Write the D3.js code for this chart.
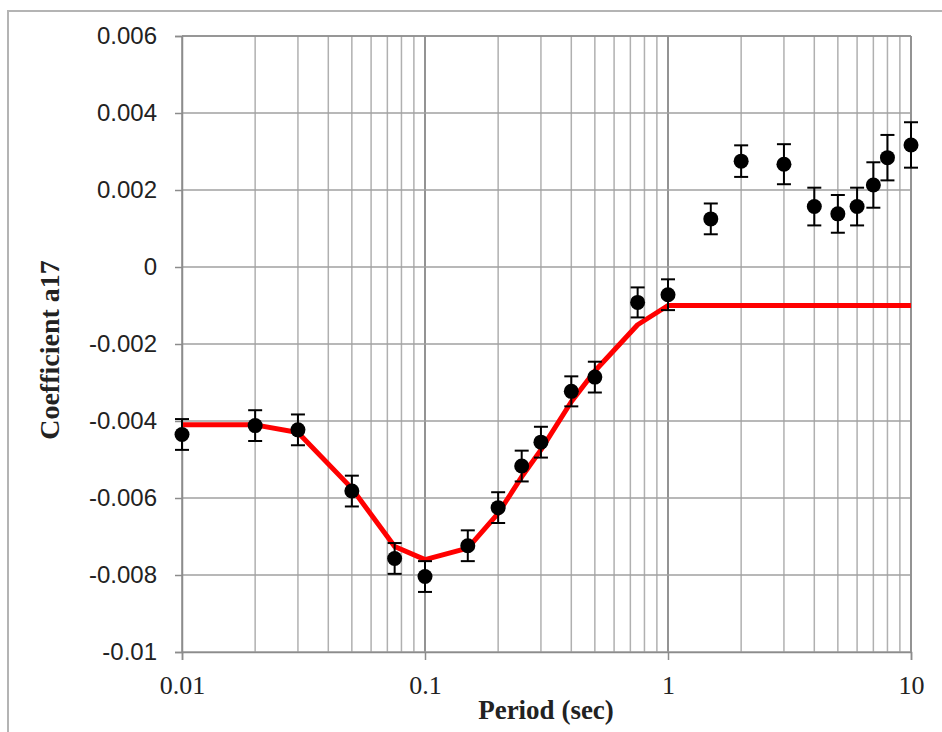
<!DOCTYPE html>
<html>
<head>
<meta charset="utf-8">
<script src="https://cdn.jsdelivr.net/npm/d3@7"></script>
<style>
  body { margin: 0; background: #fff; }
  svg { display: block; }
</style>
</head>
<body>
<svg id="chart" width="942" height="732"></svg>
<script>
// observed coefficients with error bars
var periods = [0.01, 0.02, 0.03, 0.05, 0.075, 0.1, 0.15, 0.2, 0.25, 0.3, 0.4, 0.5, 0.75, 1, 1.5, 2, 3, 4, 5, 6, 7, 8, 10];
var coefs = [-0.00435, -0.00412, -0.00423, -0.00582, -0.00757, -0.00804, -0.00724, -0.00625, -0.00517, -0.00455, -0.00323, -0.00286, -0.00092, -0.00072, 0.00125, 0.00275, 0.00267, 0.00157, 0.00138, 0.00157, 0.00213, 0.00284, 0.00317];
var errs = [0.0004, 0.0004, 0.0004, 0.0004, 0.0004, 0.0004, 0.0004, 0.0004, 0.0004, 0.0004, 0.00039, 0.0004, 0.00039, 0.0004, 0.0004, 0.00041, 0.00052, 0.00049, 0.00049, 0.00049, 0.00059, 0.00059, 0.00059];

// fitted (smoothed) model
var modelPeriods = [0.01, 0.02, 0.03, 0.05, 0.075, 0.1, 0.15, 0.2, 0.25, 0.3, 0.4, 0.5, 0.75, 1, 10];
var modelCoefs = [-0.0041, -0.0041, -0.0043, -0.00575, -0.00726, -0.0076, -0.0073, -0.0064, -0.00545, -0.00475, -0.0035, -0.0027, -0.0015, -0.001, -0.001];

var xTicks = [0.01, 0.1, 1, 10];
var yTicks = [0.006, 0.004, 0.002, 0, -0.002, -0.004, -0.006, -0.008, -0.01];

var svg = d3.select("#chart");
// NB: "top" clashes with window.top, so use plot* names
var plotL = 182, plotR = 911, plotT = 36, plotB = 652;

var x = d3.scaleLog().domain([0.01, 10]).range([plotL, plotR]);
var y = d3.scaleLinear().domain([-0.01, 0.006]).range([plotB, plotT]);

// outer frame
svg.append("rect")
   .attr("x", 8).attr("y", 11)
   .attr("width", 940).attr("height", 740)
   .attr("fill", "none")
   .attr("stroke", "#b4b4b4")
   .attr("stroke-width", 2);

// minor + major vertical grid
var vgrid = [];
[0.01, 0.1, 1].forEach(function(dec) {
   for (var k = 1; k <= 10; k++) vgrid.push(dec * k);
});
svg.append("g").selectAll("line")
   .data(vgrid)
   .enter().append("line")
   .attr("x1", function(d) { return x(d); })
   .attr("x2", function(d) { return x(d); })
   .attr("y1", plotT).attr("y2", plotB)
   .attr("stroke", function(d) { return xTicks.some(function(t) { return Math.abs(t - d) < 1e-9; }) ? "#8c8c8c" : "#b0b0b0"; })
   .attr("stroke-width", 1.5);

// horizontal grid
svg.append("g").selectAll("line")
   .data(yTicks)
   .enter().append("line")
   .attr("x1", plotL).attr("x2", plotR)
   .attr("y1", function(d) { return y(d); })
   .attr("y2", function(d) { return y(d); })
   .attr("stroke", "#a0a0a0")
   .attr("stroke-width", 1.5);

// axes
var yAxis = d3.axisLeft(y)
   .tickValues(yTicks)
   .tickSize(7)
   .tickPadding(18)
   .tickFormat(function(d) { return d === 0 ? "0" : String(+d.toFixed(3)); });
var gy = svg.append("g").attr("transform", "translate(" + plotL + ",0)").call(yAxis);
gy.select(".domain").attr("stroke", "#8c8c8c").attr("stroke-width", 1.5);
gy.selectAll(".tick line").attr("stroke", "#8c8c8c").attr("stroke-width", 1.5);
gy.selectAll("text")
   .attr("fill", "#222")
   .style("font-family", "'Liberation Sans', Arial, sans-serif")
   .style("font-size", "24px");

var xAxis = d3.axisBottom(x)
   .tickValues(xTicks)
   .tickSize(8)
   .tickPadding(16)
   .tickFormat(function(d) { return String(d); });
var gx = svg.append("g").attr("transform", "translate(0," + plotB + ")").call(xAxis);
gx.select(".domain").attr("stroke", "#8c8c8c").attr("stroke-width", 1.5);
gx.selectAll(".tick line").attr("stroke", "#8c8c8c").attr("stroke-width", 1.5);
gx.selectAll("text")
   .attr("fill", "#222")
   .style("font-family", "'Liberation Serif', 'Times New Roman', serif")
   .style("font-size", "26px");

// plot frame on the right/top
svg.append("line").attr("x1", plotL).attr("x2", plotR).attr("y1", plotT).attr("y2", plotT)
   .attr("stroke", "#8c8c8c").attr("stroke-width", 1.5);
svg.append("line").attr("x1", plotR).attr("x2", plotR).attr("y1", plotT).attr("y2", plotB)
   .attr("stroke", "#8c8c8c").attr("stroke-width", 1.5);

// model line
var line = d3.line()
   .x(function(d) { return x(d[0]); })
   .y(function(d) { return y(d[1]); });
svg.append("path")
   .datum(d3.zip(modelPeriods, modelCoefs))
   .attr("d", line)
   .attr("fill", "none")
   .attr("stroke", "#ff0000")
   .attr("stroke-width", 5)
   .attr("stroke-linejoin", "round");

// error bars + dots
var pts = svg.append("g").selectAll("g")
   .data(d3.zip(periods, coefs, errs))
   .enter().append("g");

pts.append("line")
   .attr("x1", function(d) { return x(d[0]); })
   .attr("x2", function(d) { return x(d[0]); })
   .attr("y1", function(d) { return y(d[1] + d[2]); })
   .attr("y2", function(d) { return y(d[1] - d[2]); })
   .attr("stroke", "#000").attr("stroke-width", 2);

[1, -1].forEach(function(s) {
   pts.append("line")
      .attr("x1", function(d) { return x(d[0]) - 7; })
      .attr("x2", function(d) { return x(d[0]) + 7; })
      .attr("y1", function(d) { return y(d[1] + s * d[2]); })
      .attr("y2", function(d) { return y(d[1] + s * d[2]); })
      .attr("stroke", "#000").attr("stroke-width", 2);
});

pts.append("circle")
   .attr("cx", function(d) { return x(d[0]); })
   .attr("cy", function(d) { return y(d[1]); })
   .attr("r", 7.5)
   .attr("fill", "#000");

// titles
svg.append("text")
   .attr("x", 546).attr("y", 719)
   .attr("text-anchor", "middle")
   .style("font-family", "'Liberation Serif', 'Times New Roman', serif")
   .style("font-weight", "bold")
   .style("font-size", "27px")
   .attr("fill", "#222")
   .text("Period (sec)");

svg.append("text")
   .attr("transform", "translate(59,350) rotate(-90)")
   .attr("text-anchor", "middle")
   .style("font-family", "'Liberation Serif', 'Times New Roman', serif")
   .style("font-weight", "bold")
   .style("font-size", "28px")
   .attr("fill", "#222")
   .text("Coefficient a17");
</script>
</body>
</html>
